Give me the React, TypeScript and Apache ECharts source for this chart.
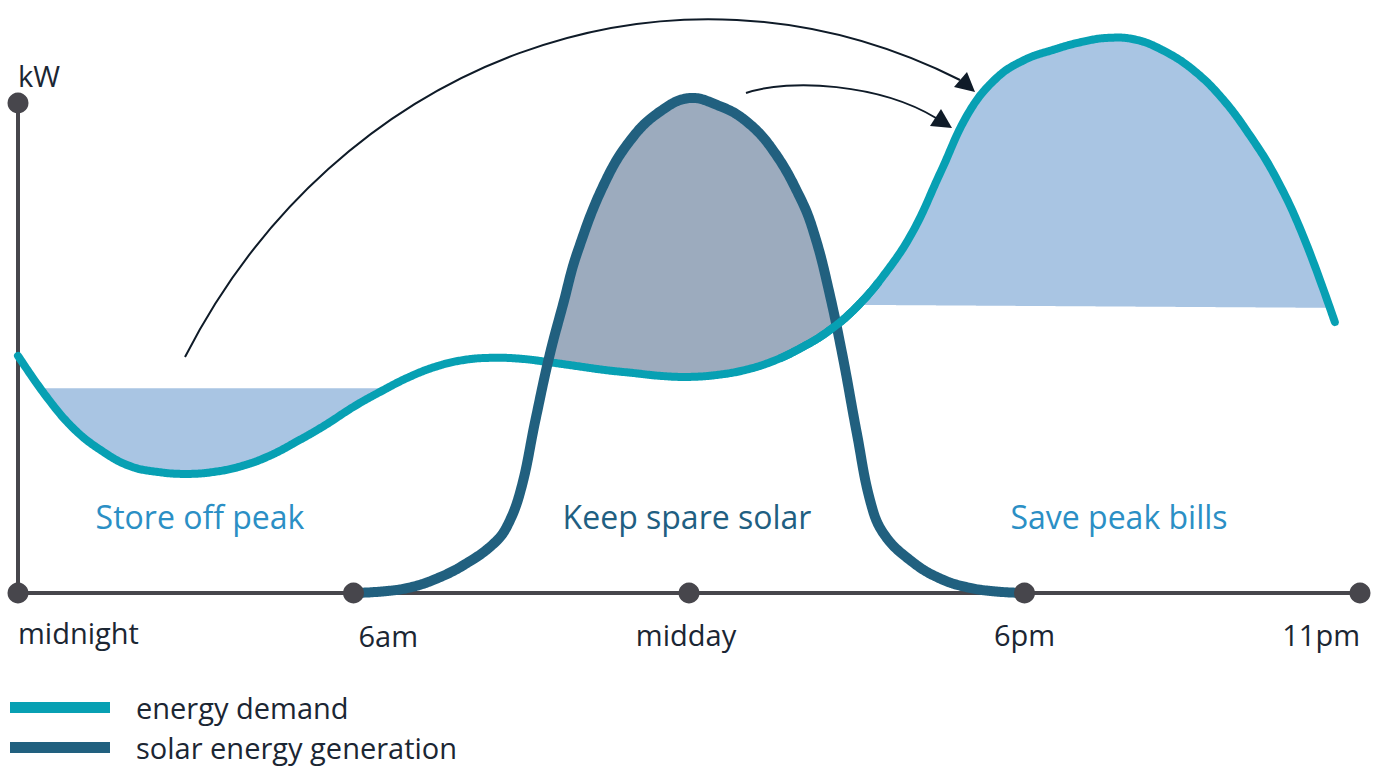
import React, { useEffect, useRef } from "react";
import * as echarts from "echarts";

// ---- data (hours on x, kW on y) ----
const TICK_HOURS = [0, 6, 12, 18, 24];
const TICK_LABELS = ["midnight", "6am", "midday", "6pm", "11pm"];
const Y_TOP = 10;

const DEMAND_HOURS = [
  0, 0.5, 1, 1.5, 2, 2.5, 3, 3.5, 4, 4.5, 5, 5.5, 6, 6.5, 7, 7.5, 8, 8.5, 9, 9.5, 10, 10.5, 11, 11.5, 12,
  12.5, 13, 13.5, 14, 14.5, 15, 15.5, 16, 16.5, 17, 17.5, 18, 18.5, 19, 19.5, 20, 20.5, 21, 21.5, 22, 22.5, 23, 23.55,
];
const DEMAND_KW = [
  4.84, 4.02, 3.35, 2.9, 2.59, 2.47, 2.43, 2.47, 2.59, 2.8, 3.1, 3.43, 3.8, 4.12, 4.41, 4.63, 4.76, 4.8, 4.78, 4.71, 4.63, 4.55, 4.49, 4.43, 4.41,
  4.45, 4.55, 4.73, 5.0, 5.35, 5.84, 6.51, 7.37, 8.59, 9.8, 10.51, 10.88, 11.08, 11.24, 11.33, 11.29, 11.06, 10.69, 10.14, 9.39, 8.47, 7.24, 5.53,
];

const SOLAR_HOURS = [
  6, 6.5, 7, 7.5, 8, 8.5, 8.75, 9, 9.25, 9.5, 9.75, 10, 10.5, 11, 11.5, 12,
  12.5, 13, 13.5, 14, 14.25, 14.5, 14.75, 15, 15.25, 15.5, 16, 16.5, 17, 17.5, 18,
];
const SOLAR_KW = [
  0, 0.03, 0.11, 0.3, 0.59, 1.0, 1.37, 2.14, 3.51, 4.82, 5.9, 6.94, 8.39, 9.31, 9.84, 10.1,
  9.96, 9.65, 9.04, 8.04, 7.29, 6.18, 4.82, 3.27, 1.84, 1.18, 0.63, 0.29, 0.11, 0.03, 0,
];

const STORE_LEVEL_KW = 4.18;
const PEAK_LINE_HOURS = [15, 23.4];
const PEAK_LINE_KW = [5.88, 5.82];

const LEGEND_NAMES = ["energy demand", "solar energy generation"];
const REGION_LABELS = ["Store off peak", "Keep spare solar", "Save peak bills"];

// ---- styles ----
const TEAL = "#07a0b3";
const SOLAR = "#21607f";
const AXIS = "#47464c";
const TEXT = "#1b2633";
const FILL_LIGHT = "#a9c5e3";
const FILL_MID = "#9cabbe";
const ARROW = "#0f1b28";
const FONT = "'Open Sans', 'Noto Sans', sans-serif";
const SMOOTH = 0.4;

function smoothSample(pts: number[][], s: number): number[][] {
  const n = pts.length;
  const cin: number[][] = [];
  const cout: number[][] = [];
  for (let j = 0; j < n; j++) {
    const p = pts[j];
    if (j === 0 || j === n - 1) {
      cin.push(p);
      cout.push(p);
      continue;
    }
    const a = pts[j - 1];
    const b = pts[j + 1];
    const vx = b[0] - a[0];
    const vy = b[1] - a[1];
    const l0 = Math.hypot(p[0] - a[0], p[1] - a[1]);
    const l1 = Math.hypot(b[0] - p[0], b[1] - p[1]);
    const r = l1 / (l0 + l1);
    cin.push([p[0] - vx * s * (1 - r), p[1] - vy * s * (1 - r)]);
    cout.push([p[0] + vx * s * r, p[1] + vy * s * r]);
  }
  const out: number[][] = [pts[0]];
  for (let j = 1; j < n; j++) {
    const p0 = pts[j - 1];
    const c1 = cout[j - 1];
    const c2 = cin[j];
    const p3 = pts[j];
    for (let k = 1; k <= 24; k++) {
      const t = k / 24;
      const u = 1 - t;
      out.push([
        u * u * u * p0[0] + 3 * u * u * t * c1[0] + 3 * u * t * t * c2[0] + t * t * t * p3[0],
        u * u * u * p0[1] + 3 * u * u * t * c1[1] + 3 * u * t * t * c2[1] + t * t * t * p3[1],
      ]);
    }
  }
  return out;
}

function yAt(poly: number[][], x: number): number {
  for (let i = 0; i < poly.length - 1; i++) {
    const a = poly[i];
    const b = poly[i + 1];
    const lo = Math.min(a[0], b[0]);
    const hi = Math.max(a[0], b[0]);
    if (x >= lo && x <= hi) {
      if (hi - lo < 1e-9) return Math.min(a[1], b[1]);
      return a[1] + ((b[1] - a[1]) * (x - a[0])) / (b[0] - a[0]);
    }
  }
  return NaN;
}

function bandPolygon(
  x0: number,
  x1: number,
  upperFn: (x: number) => number,
  lowerFn: (x: number) => number
): number[][] {
  const upper: number[][] = [];
  const lower: number[][] = [];
  for (let x = x0; x <= x1; x += 0.5) {
    const u = upperFn(x);
    const l = lowerFn(x);
    if (isNaN(u) || isNaN(l)) continue;
    if (l - u > 0.01) {
      upper.push([x, u]);
      lower.push([x, l]);
    } else if (upper.length) {
      const last = upper[upper.length - 1];
      if (Math.abs(last[0] - (x - 0.5)) < 1e-6) {
        upper.push([x, u]);
        lower.push([x, u]);
      }
    }
  }
  return upper.concat(lower.reverse());
}

export default function App() {
  const ref = useRef<HTMLDivElement>(null);

  useEffect(() => {
    if (!ref.current) return;
    const chart = echarts.init(ref.current, null, { renderer: "svg" });

    const tickStyle = [
      { align: "left", offset: [0, 0] },
      { align: "left", offset: [5, 3] },
      { align: "center", offset: [-3, 2] },
      { align: "center", offset: [0, 2] },
      { align: "right", offset: [0, 2] },
    ];

    const dotData: any[] = TICK_HOURS.map((h, i) => ({
      value: [h, 0],
      label: {
        show: true,
        formatter: TICK_LABELS[i],
        position: "bottom",
        distance: 14,
        align: tickStyle[i].align,
        offset: tickStyle[i].offset,
        color: TEXT,
        fontSize: 29,
        fontFamily: FONT,
      },
    }));
    dotData.push({ value: [0, Y_TOP], label: { show: false } });

    const renderCurves = (params: any, api: any) => {
      const dPx = DEMAND_HOURS.map((h, i) => api.coord([h, DEMAND_KW[i]]));
      const sPx = SOLAR_HOURS.map((h, i) => api.coord([h, SOLAR_KW[i]]));
      const dPoly = smoothSample(dPx, SMOOTH);
      const sPoly = smoothSample(sPx, SMOOTH);
      const yDem = (x: number) => yAt(dPoly, x);
      const ySol = (x: number) => yAt(sPoly, x);
      const storeY = api.coord([0, STORE_LEVEL_KW])[1];
      const pA = api.coord([PEAK_LINE_HOURS[0], PEAK_LINE_KW[0]]);
      const pB = api.coord([PEAK_LINE_HOURS[1], PEAK_LINE_KW[1]]);
      const peakY = (x: number) => pA[1] + ((pB[1] - pA[1]) * (x - pA[0])) / (pB[0] - pA[0]);

      const dx0 = dPx[0][0];
      const dx1 = dPx[dPx.length - 1][0];
      const sx0 = sPx[0][0];
      const sx1 = sPx[sPx.length - 1][0];

      const store = bandPolygon(dx0, dx1, () => storeY, (x) => Math.max(yDem(x), storeY));
      const peak = bandPolygon(pA[0] - 40, pB[0] + 40, (x) => Math.min(yDem(x), peakY(x)), (x) => peakY(x));
      const spare = bandPolygon(sx0, sx1, (x) => Math.min(ySol(x), yDem(x)), (x) => yDem(x));

      // part of the demand curve that passes over the solar curve on its way up
      const xCrossLo = api.coord([13.6, 0])[0];
      const xCrossHi = api.coord([15.4, 0])[0];
      const demandOver = dPoly.filter((p) => p[0] >= xCrossLo && p[0] <= xCrossHi);

      const lineStyle = (color: string, w: number) => ({
        stroke: color,
        lineWidth: w,
        fill: null,
        lineCap: "round",
        lineJoin: "round",
      });

      return {
        type: "group",
        children: [
          { type: "polygon", shape: { points: store }, style: { fill: FILL_LIGHT }, silent: true },
          { type: "polygon", shape: { points: peak }, style: { fill: FILL_LIGHT }, silent: true },
          { type: "polygon", shape: { points: spare }, style: { fill: FILL_MID }, silent: true },
          { type: "polyline", shape: { points: dPoly }, style: lineStyle(TEAL, 8), silent: true },
          { type: "polyline", shape: { points: sPoly }, style: lineStyle(SOLAR, 10), silent: true },
          { type: "polyline", shape: { points: demandOver }, style: { ...lineStyle(TEAL, 8), lineCap: "butt" }, silent: true },
        ],
      };
    };

    const legendBase = {
      orient: "vertical",
      left: 10,
      padding: 0,
      icon: "rect",
      itemWidth: 100,
      itemHeight: 11,
      textStyle: { color: TEXT, fontSize: 29, fontFamily: FONT, lineHeight: 28, padding: [0, 0, 0, 21] },
      selectedMode: false,
    };

    chart.setOption({
      animation: false,
      backgroundColor: "#ffffff",
      grid: { left: 18, right: 16, top: 103, bottom: 173, containLabel: false },
      xAxis: {
        type: "value",
        min: 0,
        max: 24,
        interval: 6,
        axisLine: { show: true, lineStyle: { color: AXIS, width: 4 } },
        axisTick: { show: false },
        axisLabel: { show: false },
        splitLine: { show: false },
      },
      yAxis: {
        type: "value",
        min: 0,
        max: Y_TOP,
        name: "kW",
        nameLocation: "end",
        nameGap: 13,
        nameTextStyle: { align: "left", verticalAlign: "bottom", color: TEXT, fontSize: 29, fontFamily: FONT },
        axisLine: { show: true, lineStyle: { color: AXIS, width: 4 } },
        axisTick: { show: false },
        axisLabel: { show: false },
        splitLine: { show: false },
      },
      legend: [
        { ...legendBase, data: [LEGEND_NAMES[0]], top: 693 },
        { ...legendBase, data: [LEGEND_NAMES[1]], top: 733 },
      ],
      graphic: [
        {
          type: "bezierCurve",
          shape: { x1: 185, y1: 357, cpx1: 335, cpy1: 63, cpx2: 668, cpy2: -67, x2: 960, y2: 80 },
          style: { stroke: ARROW, lineWidth: 2, fill: "none" },
          silent: true,
        },
        {
          type: "polygon",
          shape: { points: [[967, 72], [954, 87], [975, 92]] },
          style: { fill: ARROW },
          silent: true,
        },
        {
          type: "bezierCurve",
          shape: { x1: 746, y1: 93, cpx1: 790, cpy1: 78, cpx2: 880, cpy2: 84, x2: 936, y2: 118 },
          style: { stroke: ARROW, lineWidth: 2, fill: "none" },
          silent: true,
        },
        {
          type: "polygon",
          shape: { points: [[941, 109], [930, 126], [952, 128]] },
          style: { fill: ARROW },
          silent: true,
        },
        {
          type: "text",
          x: 200,
          y: 516,
          style: { text: REGION_LABELS[0], fill: "#2b8fc5", fontSize: 32, fontFamily: FONT, align: "center", verticalAlign: "middle" },
          silent: true,
        },
        {
          type: "text",
          x: 687,
          y: 516,
          style: { text: REGION_LABELS[1], fill: "#1f5f82", fontSize: 32, fontFamily: FONT, align: "center", verticalAlign: "middle" },
          silent: true,
        },
        {
          type: "text",
          x: 1119,
          y: 516,
          style: { text: REGION_LABELS[2], fill: "#2b8fc5", fontSize: 32, fontFamily: FONT, align: "center", verticalAlign: "middle" },
          silent: true,
        },
      ],
      series: [
        {
          type: "custom",
          name: "curves",
          coordinateSystem: "cartesian2d",
          data: [[0, 0]],
          renderItem: renderCurves,
          clip: false,
          silent: true,
          z: 2,
        },
        {
          type: "line",
          name: LEGEND_NAMES[0],
          data: [],
          symbol: "none",
          itemStyle: { color: TEAL },
          lineStyle: { color: TEAL, width: 8 },
        },
        {
          type: "line",
          name: LEGEND_NAMES[1],
          data: [],
          symbol: "none",
          itemStyle: { color: SOLAR },
          lineStyle: { color: SOLAR, width: 10 },
        },
        {
          type: "scatter",
          name: "ticks",
          data: dotData,
          symbol: "circle",
          symbolSize: 21,
          itemStyle: { color: AXIS, opacity: 1 },
          clip: false,
          silent: true,
          z: 5,
        },
      ],
    });

    return () => chart.dispose();
  }, []);

  return (
    <div
      ref={ref}
      style={{ position: "fixed", left: 0, top: 0, width: "1376px", height: "766px", background: "#fff" }}
    />
  );
}
